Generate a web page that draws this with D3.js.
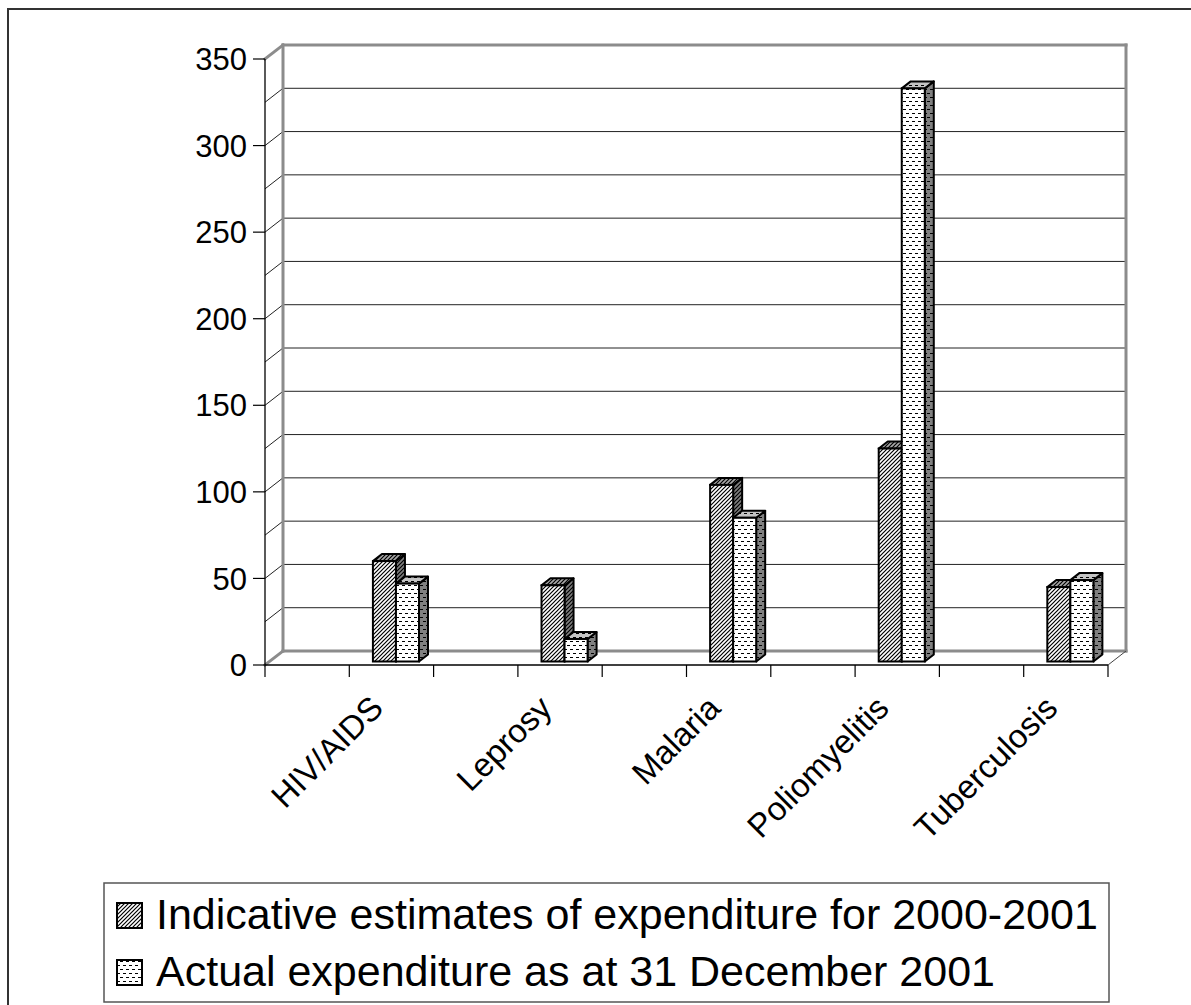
<!DOCTYPE html>
<html>
<head>
<meta charset="utf-8">
<script src="https://cdn.jsdelivr.net/npm/d3@7"></script>
<style>
  html, body { margin: 0; padding: 0; background: #fff; }
  svg { display: block; }
  text { font-family: "Liberation Sans", Arial, sans-serif; fill: #000; }
</style>
</head>
<body>
<svg id="chart" width="1191" height="1005"></svg>
<script>
// ---- data ----
const categories = ["HIV/AIDS", "Leprosy", "Malaria", "Poliomyelitis", "Tuberculosis"];
const seriesNames = ["Indicative estimates of expenditure for 2000-2001", "Actual expenditure as at 31 December 2001"];
const seriesKeys = ["estimate", "actual"];
const estimateValues = [58, 44, 102, 123, 43];
const actualValues = [45, 13, 83, 331, 47];
const yTicks = [0, 50, 100, 150, 200, 250, 300, 350];
const yGrid = [0, 25, 50, 75, 100, 125, 150, 175, 200, 225, 250, 275, 300, 325, 350];

const svg = d3.select("#chart");
const W = 1191, H = 1005;

// ---- patterns ----
const defs = svg.append("defs");
function hatch(id, bg) {
  const p = defs.append("pattern").attr("id", id).attr("patternUnits", "userSpaceOnUse")
    .attr("width", 4).attr("height", 4);
  p.append("rect").attr("width", 4).attr("height", 4).attr("fill", bg);
  p.append("path").attr("d", "M-1,1 L1,-1 M0,4 L4,0 M3,5 L5,3")
    .attr("stroke", "#000").attr("stroke-width", 1.2);
}
function dashes(id, bg) {
  const p = defs.append("pattern").attr("id", id).attr("patternUnits", "userSpaceOnUse")
    .attr("width", 6).attr("height", 8);
  p.append("rect").attr("width", 6).attr("height", 8).attr("fill", bg);
  p.append("path").attr("d", "M0,1.5 H3 M3,5.5 H6")
    .attr("stroke", "#000").attr("stroke-width", 1);
}
hatch("h-front", "#fff"); hatch("h-top", "#a8a8a8"); hatch("h-side", "#808080");
dashes("d-front", "#fff"); dashes("d-top", "#c4c4c4"); dashes("d-side", "#808080");
const fills = {
  estimate: { front: "url(#h-front)", top: "url(#h-top)", side: "url(#h-side)" },
  actual:   { front: "url(#d-front)", top: "url(#d-top)", side: "url(#d-side)" }
};

svg.append("rect").attr("width", W).attr("height", H).attr("fill", "#fff");
svg.append("rect").attr("x", 8).attr("y", 9).attr("width", 1300).attr("height", 1200)
  .attr("fill", "none").attr("stroke", "#333").attr("stroke-width", 2);

// ---- scales ----
const x0 = 265, x1 = 1108, yBottom = 665, yTop = 59;
const depth = [18, -14];
const y = d3.scaleLinear().domain([0, 350]).range([yBottom, yTop]);
const x = d3.scaleBand().domain(categories).range([x0, x1]).padding(0);
const bw = x.bandwidth();
const xs = d3.scaleBand().domain(seriesKeys).range([bw / 2, bw]).paddingInner(0).paddingOuter(0.83);
const off = f => [depth[0] * f, depth[1] * f];

// ---- back wall gridlines ----
const g = svg.append("g");
const [bdx, bdy] = off(1);
g.selectAll("line.grid").data(yGrid.filter(v => v > 0 && v < 350)).join("line")
  .attr("x1", x0 + bdx).attr("x2", x1 + bdx)
  .attr("y1", d => y(d) + bdy).attr("y2", d => y(d) + bdy)
  .attr("stroke", "#222").attr("stroke-width", 1);
// side wall diagonals
g.selectAll("line.side").data(yGrid.filter(v => v > 0 && v < 350)).join("line")
  .attr("x1", x0).attr("x2", x0 + bdx)
  .attr("y1", d => y(d)).attr("y2", d => y(d) + bdy)
  .attr("stroke", "#222").attr("stroke-width", 1);

// wall edges (gray)
const gray = "#8c8c8c";
const edges = [
  [x0 + bdx, y(0) + bdy, x0 + bdx, y(350) + bdy],
  [x0 + bdx, y(350) + bdy, x1 + bdx, y(350) + bdy],
  [x1 + bdx, y(350) + bdy, x1 + bdx, y(0) + bdy],
  [x0 + bdx, y(0) + bdy, x1 + bdx, y(0) + bdy],
  [x0, y(350), x0 + bdx, y(350) + bdy],
  [x0, y(0), x0 + bdx, y(0) + bdy]
];
g.selectAll("line.edge").data(edges).join("line")
  .attr("x1", d => d[0]).attr("y1", d => d[1]).attr("x2", d => d[2]).attr("y2", d => d[3])
  .attr("stroke", gray).attr("stroke-width", 3).attr("stroke-linecap", "square");
// floor right diagonal
g.append("line").attr("x1", x1).attr("y1", y(0)).attr("x2", x1 + bdx).attr("y2", y(0) + bdy)
  .attr("stroke", "#444").attr("stroke-width", 1);

// front axis lines
g.append("line").attr("x1", x0).attr("x2", x0).attr("y1", y(350)).attr("y2", y(0))
  .attr("stroke", "#000").attr("stroke-width", 1.3);
g.append("line").attr("x1", x0).attr("x2", x1).attr("y1", y(0)).attr("y2", y(0))
  .attr("stroke", "#000").attr("stroke-width", 1.3);

// y ticks + labels
g.selectAll("line.ytick").data(yTicks).join("line")
  .attr("x1", x0 - 12).attr("x2", x0).attr("y1", d => y(d)).attr("y2", d => y(d))
  .attr("stroke", "#000").attr("stroke-width", 1.2);
g.selectAll("text.ylab").data(yTicks).join("text")
  .attr("x", 247).attr("y", d => y(d)).attr("dy", "0.36em")
  .attr("text-anchor", "end").attr("font-size", 31).text(d => d);

// category ticks (every half band)
const xTickPos = [];
categories.forEach(c => { xTickPos.push(x(c)); xTickPos.push(x(c) + bw / 2); });
xTickPos.push(x1);
g.selectAll("line.xtick").data(xTickPos).join("line")
  .attr("x1", d => d).attr("x2", d => d).attr("y1", y(0)).attr("y2", y(0) + 12)
  .attr("stroke", "#000").attr("stroke-width", 1.2);

// ---- bars ----
const [fdx, fdy] = off(0.25);
const [kdx, kdy] = off(0.75);
const barData = [];
categories.forEach((c, i) => {
  barData.push({ c, key: "estimate", v: estimateValues[i] });
  barData.push({ c, key: "actual", v: actualValues[i] });
});
const bars = svg.append("g").selectAll("g.bar").data(barData).join("g");
bars.each(function (d) {
  const el = d3.select(this);
  const L = x(d.c) + xs(d.key), R = L + xs.bandwidth();
  const yt = y(d.v), yb = y(0);
  const st = { stroke: "#000", w: 2 };
  el.append("polygon")
    .attr("points", [[R + fdx, yt + fdy], [R + kdx, yt + kdy], [R + kdx, yb + kdy], [R + fdx, yb + fdy]].join(" "))
    .attr("fill", fills[d.key].side).attr("stroke", st.stroke).attr("stroke-width", st.w).attr("stroke-linejoin", "round");
  el.append("polygon")
    .attr("points", [[L + fdx, yt + fdy], [R + fdx, yt + fdy], [R + kdx, yt + kdy], [L + kdx, yt + kdy]].join(" "))
    .attr("fill", fills[d.key].top).attr("stroke", st.stroke).attr("stroke-width", st.w).attr("stroke-linejoin", "round");
  el.append("rect")
    .attr("x", L + fdx).attr("y", yt + fdy).attr("width", R - L).attr("height", yb - yt)
    .attr("fill", fills[d.key].front).attr("stroke", st.stroke).attr("stroke-width", st.w);
});

// ---- category labels ----
svg.append("g").selectAll("text").data(categories).join("text")
  .attr("transform", d => `translate(${x(d) + bw * 0.75 - 6.5},${710}) rotate(-45)`)
  .attr("text-anchor", "end").attr("font-size", 33).text(d => d);

// ---- legend ----
const lg = svg.append("g");
lg.append("rect").attr("x", 104).attr("y", 883).attr("width", 1005).attr("height", 119)
  .attr("fill", "#fff").attr("stroke", "#555").attr("stroke-width", 1.5);
const legendRows = seriesKeys.map((k, i) => ({ k, name: seriesNames[i], i }));
lg.selectAll("rect.sw").data(legendRows).join("rect")
  .attr("x", 117).attr("y", d => 903 + d.i * 57).attr("width", 25).attr("height", 25)
  .attr("fill", d => fills[d.k].front).attr("stroke", "#000").attr("stroke-width", 2);
lg.selectAll("text").data(legendRows).join("text")
  .attr("x", 156).attr("y", d => 929 + d.i * 57).attr("font-size", 43).text(d => d.name);
</script>
</body>
</html>
